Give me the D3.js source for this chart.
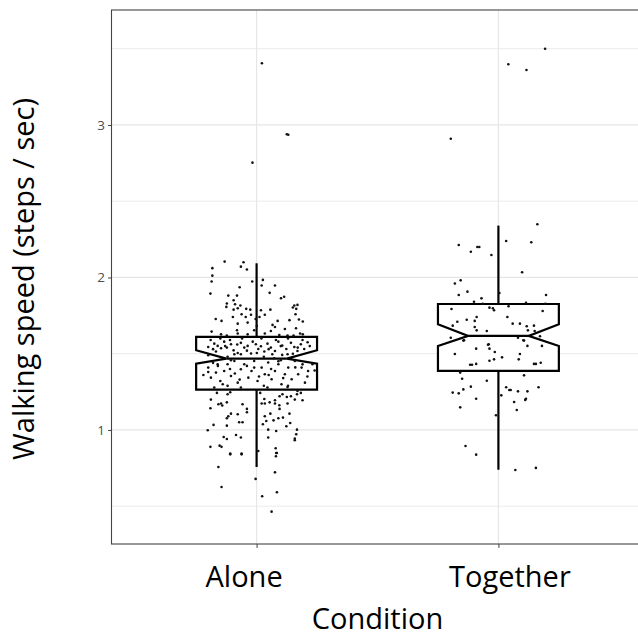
<!DOCTYPE html>
<html><head><meta charset="utf-8">
<script src="https://cdn.jsdelivr.net/npm/d3@7"></script>
<style>html,body{margin:0;padding:0;background:#fff;} svg{display:block;}</style>
</head><body>
<svg id="chart" width="638" height="638"></svg>
<script>
// ---------- data ----------
const categories = ["Alone", "Together"];
const yTicks = [1, 2, 3];
const yMinorTicks = [0.5, 1.5, 2.5, 3.5];
const xTitle = "Condition";
const yTitle = "Walking speed (steps / sec)";

// box statistics per category
const whiskerLow  = [0.757, 0.739];
const q1          = [1.264, 1.387];
const median      = [1.4675, 1.617];
const q3          = [1.610, 1.826];
const whiskerHigh = [2.093, 2.340];
const notchLow    = [1.435, 1.551];
const notchHigh   = [1.523, 1.693];

// jittered observations: [horizontal jitter (category units), walking speed]
const alonePoints = [
  [0.022,3.405],[0.125,2.939],[0.131,2.936],[-0.017,2.753],
  [-0.132,2.104],[-0.054,2.100],[-0.065,2.071],[-0.040,2.052],[-0.183,2.061],[-0.183,2.012],[-0.186,1.973],[-0.018,1.973],
  [0.026,1.984],[0.021,1.947],[0.076,1.947],[-0.070,1.936],[-0.191,1.894],[0.054,1.899],[-0.117,1.881],[-0.081,1.881],
  [0.101,1.864],[0.114,1.873],[-0.095,1.851],[-0.123,1.829],[-0.089,1.824],[-0.067,1.816],[-0.125,1.807],[-0.078,1.798],
  [-0.043,1.794],[-0.026,1.789],[-0.095,1.789],[0.057,1.789],[0.018,1.785],[0.156,1.816],[0.169,1.820],[0.150,1.803],
  [0.164,1.794],[-0.062,1.759],[-0.023,1.755],[0.034,1.755],[-0.098,1.741],[0.012,1.741],[-0.045,1.741],[-0.169,1.728],
  [-0.145,1.715],[-0.004,1.728],[0.087,1.715],[0.136,1.720],[0.175,1.724],[0.191,1.711],[0.161,1.759],
  [-0.078,1.697],[-0.037,1.704],[0.001,1.682],[0.066,1.689],[0.076,1.675],[0.117,1.662],[0.163,1.667],[-0.081,1.654],
  [-0.078,1.632],[-0.186,1.645],[-0.147,1.627],[-0.123,1.619],[-0.037,1.627],[0.034,1.632],[0.094,1.623],[0.128,1.619],
  [0.153,1.619],[0.180,1.632],[0.191,1.627],[0.059,1.649],[-0.010,1.654],
  [-0.200,1.544],[-0.175,1.566],[-0.161,1.551],[-0.147,1.536],[-0.168,1.514],[-0.134,1.579],[-0.123,1.540],[-0.106,1.562],
  [-0.095,1.522],[-0.078,1.505],[-0.065,1.571],[-0.051,1.540],[-0.037,1.551],[-0.016,1.579],[-0.003,1.562],[0.007,1.531],
  [0.018,1.549],[0.032,1.514],[0.045,1.566],[0.059,1.540],[0.076,1.518],[0.090,1.579],[0.106,1.553],[0.123,1.531],
  [0.142,1.571],[0.156,1.544],[0.169,1.518],[0.183,1.562],[0.197,1.531],[0.211,1.575],[0.128,1.496],[-0.065,1.496],
  [-0.092,1.496],[-0.023,1.501],[0.001,1.505],[0.065,1.496],[0.106,1.492],
  [-0.190,1.590],[-0.150,1.600],[-0.110,1.590],[-0.060,1.600],[0.020,1.600],[0.080,1.590],[0.130,1.600],[0.190,1.590],
  [-0.180,1.530],[-0.130,1.550],[-0.040,1.520],[0.050,1.530],[0.100,1.550],[0.170,1.540],[-0.080,1.560],[0.220,1.550],
  [-0.200,1.490],[0.150,1.500],[0.030,1.480],[-0.120,1.480],
  [-0.200,1.409],[-0.189,1.343],[-0.168,1.376],[-0.150,1.321],[-0.134,1.387],[-0.120,1.431],[-0.106,1.354],[-0.092,1.452],
  [-0.078,1.310],[-0.065,1.398],[-0.051,1.431],[-0.034,1.343],[-0.021,1.387],[-0.010,1.452],[0.004,1.321],[0.021,1.409],
  [0.034,1.365],[0.048,1.442],[0.062,1.332],[0.076,1.387],[0.090,1.431],[0.103,1.300],[0.117,1.365],[0.131,1.409],
  [0.145,1.332],[0.158,1.452],[0.172,1.365],[0.186,1.409],[0.200,1.310],[0.213,1.387],[0.231,1.431],[-0.120,1.289],
  [-0.065,1.278],[0.045,1.278],[0.128,1.282],[-0.175,1.278],[0.100,1.457],[-0.010,1.409],[0.073,1.470],[-0.106,1.457],
  [-0.161,1.431],
  [-0.200,1.380],[-0.160,1.420],[-0.140,1.300],[-0.090,1.370],[-0.040,1.420],[0.010,1.350],[0.060,1.400],[0.110,1.340],
  [0.160,1.410],[0.210,1.350],[-0.180,1.440],[-0.070,1.330],[0.030,1.290],[0.090,1.450],[0.190,1.430],[0.240,1.390],
  [-0.220,1.360],[0.130,1.290],[-0.110,1.400],[0.050,1.360],
  [-0.164,1.243],[-0.120,1.234],[-0.109,1.247],[-0.189,1.199],[-0.158,1.168],[-0.147,1.173],[-0.142,1.160],[-0.123,1.181],
  [-0.191,1.142],[-0.058,1.168],[-0.040,1.138],[-0.040,1.116],[-0.106,1.107],[-0.117,1.090],[-0.123,1.077],[-0.078,1.103],
  [-0.072,1.050],[-0.058,1.050],[-0.178,1.033],[-0.123,1.028],[-0.202,0.998],[-0.136,0.954],[-0.123,0.941],[-0.085,0.967],
  [-0.065,0.950],[-0.191,0.889],[-0.153,0.897],[-0.145,0.889],[-0.109,0.845],[-0.062,0.845],
  [0.015,1.243],[0.032,1.203],[0.054,1.181],[0.076,1.195],[0.095,1.221],[0.107,1.234],[0.125,1.216],[0.142,1.221],
  [0.167,1.234],[0.183,1.243],[0.169,1.256],[0.158,1.199],[0.190,1.195],[0.094,1.162],[0.076,1.173],[0.021,1.173],
  [0.034,1.173],[0.095,1.138],[0.128,1.173],[0.136,1.107],[0.034,1.090],[0.040,1.059],[0.026,1.037],[0.070,1.063],
  [0.090,1.077],[0.139,1.046],[0.048,1.002],[0.081,0.993],[0.167,1.002],[0.123,1.024],[0.164,0.972],[0.158,0.943],
  [0.158,0.932],[0.048,0.950],[0.079,0.880],[0.007,0.862],[0.081,0.849],[0.109,1.081],[0.057,1.107],
  [-0.109,0.840],[-0.062,0.840],[0.080,0.827],[0.084,0.849],[-0.158,0.757],[0.076,0.722],[-0.004,0.679],[-0.145,0.626],
  [0.084,0.591],[0.023,0.565],[0.062,0.464]
];

const togetherPoints = [
  [0.193,3.500],[0.041,3.398],[0.116,3.361],[-0.197,2.910],
  [0.161,2.349],[0.032,2.239],[0.136,2.231],[-0.164,2.213],[-0.087,2.200],[-0.079,2.200],[-0.114,2.169],[-0.029,2.147],
  [0.098,2.034],[-0.156,1.981],[-0.180,1.960],[-0.128,1.907],[-0.164,1.885],[-0.070,1.863],[0.197,1.885],[-0.101,1.841],
  [0.004,1.898],[-0.065,1.828],[0.114,1.833],[0.194,1.828],[-0.037,1.802],[-0.023,1.798],[-0.018,1.785],[0.042,1.811],
  [-0.194,1.793],[0.183,1.780],[-0.090,1.741],[-0.131,1.723],[-0.170,1.710],[-0.098,1.715],[0.037,1.741],[0.059,1.697],
  [0.089,1.697],[0.117,1.680],[0.147,1.684],[-0.189,1.684],[-0.098,1.675],[-0.090,1.653],[-0.048,1.649],[0.122,1.653],
  [0.150,1.649],[-0.197,1.605],[-0.142,1.588],[0.081,1.605],[0.103,1.588],[0.172,1.614],[-0.040,1.562],
  [-0.145,1.586],[-0.043,1.559],[-0.092,1.533],[-0.037,1.533],[-0.015,1.511],[-0.180,1.498],[0.015,1.476],[0.089,1.498],
  [0.120,1.551],[0.180,1.551],[0.106,1.586],[-0.037,1.454],[-0.018,1.463],[0.084,1.463],[-0.117,1.428],[-0.109,1.428],
  [-0.092,1.433],[0.147,1.433],[0.155,1.433],[0.175,1.441],
  [-0.158,1.376],[-0.150,1.336],[-0.048,1.323],[0.106,1.358],[-0.114,1.284],[-0.145,1.266],[-0.189,1.245],[-0.164,1.240],
  [0.032,1.280],[0.045,1.262],[0.051,1.262],[0.081,1.253],[0.120,1.253],[0.166,1.280],[0.012,1.227],[-0.092,1.205],
  [0.114,1.205],[0.111,1.197],[0.065,1.183],[-0.158,1.148],[0.076,1.131],[-0.010,1.096],[-0.136,0.895],[-0.092,0.838],
  [0.070,0.737],[0.155,0.751]
];
const pointsByCategory = [alonePoints, togetherPoints];

// ---------- layout ----------
const font = "'Open Sans', sans-serif";
const panel = {left: 111.5, right: 643.5, top: 10, bottom: 544};
const svg = d3.select("#chart");

const x = d3.scalePoint().domain(categories).range([panel.left, panel.right]).padding(0.6);
const y = d3.scaleLinear().domain([0.252, 3.754]).range([panel.bottom, panel.top]);
const step = x.step();
const boxW = step * 0.5;

// grid
const grid = svg.append("g");
grid.selectAll("line.minor").data(yMinorTicks).join("line")
  .attr("x1", panel.left).attr("x2", panel.right)
  .attr("y1", d => y(d)).attr("y2", d => y(d))
  .attr("stroke", "#ebebeb").attr("stroke-width", 1);
grid.selectAll("line.major").data(yTicks).join("line")
  .attr("x1", panel.left).attr("x2", panel.right)
  .attr("y1", d => y(d)).attr("y2", d => y(d))
  .attr("stroke", "#e6e6e6").attr("stroke-width", 1.2);
grid.selectAll("line.vmajor").data(categories).join("line")
  .attr("x1", d => x(d)).attr("x2", d => x(d))
  .attr("y1", panel.top).attr("y2", panel.bottom)
  .attr("stroke", "#e6e6e6").attr("stroke-width", 1.2);

// boxes
const boxes = categories.map((c, i) => ({
  c, lo: whiskerLow[i], q1: q1[i], med: median[i], q3: q3[i], hi: whiskerHigh[i],
  nlo: notchLow[i], nhi: notchHigh[i]
}));
const bg = svg.append("g");
boxes.forEach(b => {
  const cx = x(b.c), l = cx - boxW / 2, r = cx + boxW / 2, inset = boxW * 0.25;
  bg.append("line").attr("x1", cx).attr("x2", cx).attr("y1", y(b.q3)).attr("y2", y(b.hi))
    .attr("stroke", "#000").attr("stroke-width", 2.2);
  bg.append("line").attr("x1", cx).attr("x2", cx).attr("y1", y(b.q1)).attr("y2", y(b.lo))
    .attr("stroke", "#000").attr("stroke-width", 2.2);
  const p = d3.path();
  p.moveTo(l, y(b.q3)); p.lineTo(r, y(b.q3)); p.lineTo(r, y(b.nhi));
  p.lineTo(r - inset, y(b.med)); p.lineTo(r, y(b.nlo)); p.lineTo(r, y(b.q1));
  p.lineTo(l, y(b.q1)); p.lineTo(l, y(b.nlo)); p.lineTo(l + inset, y(b.med));
  p.lineTo(l, y(b.nhi)); p.closePath();
  bg.append("path").attr("d", p.toString()).attr("fill", "#fff")
    .attr("stroke", "#000").attr("stroke-width", 2.2).attr("stroke-linejoin", "miter");
  bg.append("line").attr("x1", l + inset).attr("x2", r - inset)
    .attr("y1", y(b.med)).attr("y2", y(b.med)).attr("stroke", "#000").attr("stroke-width", 2.4);
});

// points
const pg = svg.append("g");
categories.forEach((c, i) => {
  pg.selectAll(null).data(pointsByCategory[i]).join("circle")
    .attr("cx", d => x(c) + d[0] * step)
    .attr("cy", d => y(d[1]))
    .attr("r", 1.3).attr("fill", "#111");
});

// panel border
svg.append("rect").attr("x", panel.left).attr("y", panel.top)
  .attr("width", panel.right - panel.left).attr("height", panel.bottom - panel.top)
  .attr("fill", "none").attr("stroke", "#444").attr("stroke-width", 1.1);

// axes
const yAxis = svg.append("g").attr("transform", `translate(${panel.left},0)`)
  .call(d3.axisLeft(y).tickValues(yTicks).tickSize(3.5).tickPadding(3).tickFormat(d3.format("d")));
yAxis.select(".domain").remove();
yAxis.selectAll(".tick line").attr("stroke", "#444");
yAxis.selectAll(".tick text").attr("font-family", font).attr("font-size", 13.5).attr("fill", "#4d4d4d");

const labelNudge = [-13, 11];
const xAxis = svg.append("g").attr("transform", `translate(0,${panel.bottom})`)
  .call(d3.axisBottom(x).tickSize(4));
xAxis.select(".domain").remove();
xAxis.selectAll(".tick line").attr("stroke", "#444");
xAxis.selectAll(".tick text").attr("font-family", font).attr("font-size", 29).attr("fill", "#000")
  .attr("y", 43).attr("dy", 0).attr("dx", (d, i) => labelNudge[i]);

svg.append("text").attr("x", (panel.left + panel.right) / 2).attr("y", 629)
  .attr("text-anchor", "middle").attr("font-family", font).attr("font-size", 29).attr("fill", "#000")
  .text(xTitle);
svg.append("text").attr("transform", `translate(34,${(panel.top + panel.bottom) / 2 + 2}) rotate(-90)`)
  .attr("text-anchor", "middle").attr("font-family", font).attr("font-size", 29).attr("fill", "#000")
  .text(yTitle);
</script>
</body></html>
